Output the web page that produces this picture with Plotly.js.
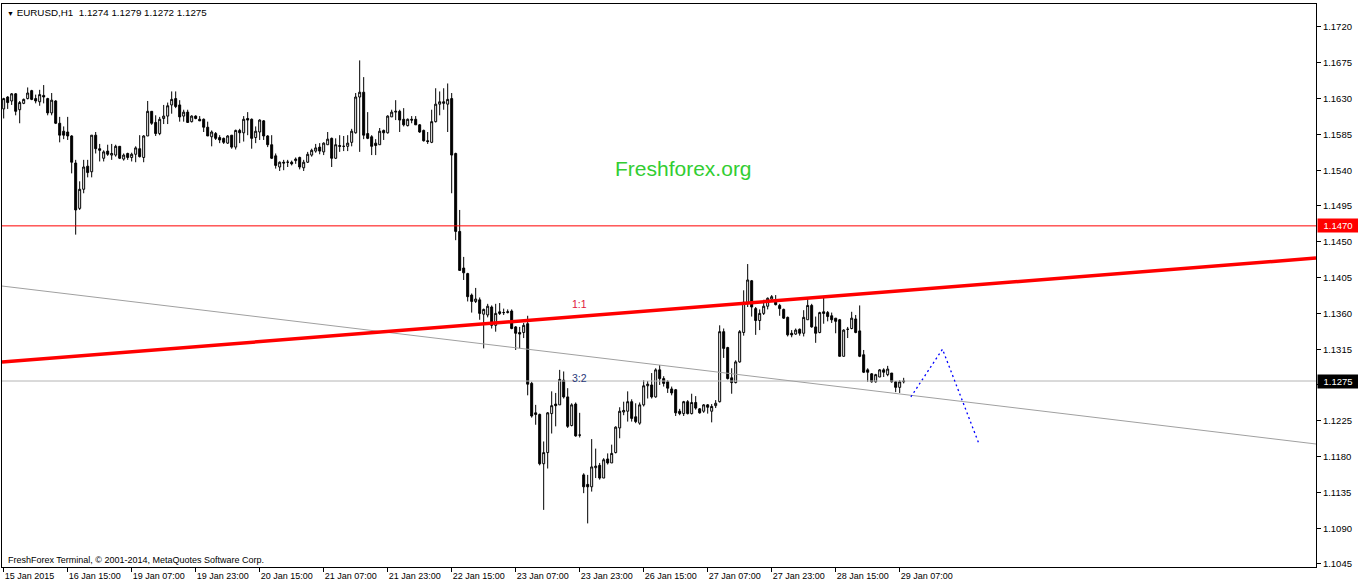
<!DOCTYPE html>
<html>
<head>
<meta charset="utf-8">
<script src="https://cdn.plot.ly/plotly-3.0.1.min.js"></script>
<style>
html,body{margin:0;padding:0;background:#fff;}
#chart{width:1358px;height:586px;}
</style>
</head>
<body>
<div id="chart"></div>
<script>
// ---- EURUSD H1 candles (bar 0 = 15 Jan 23:00) ----
const open = [
1.1617,1.1632,1.1627,1.1636,1.1616,1.1624,1.1630,1.1640,1.1630,1.1626,
1.1634,1.1630,1.1612,1.1627,1.1599,1.1589,1.1588,1.1583,1.1549,1.1492,
1.1516,1.1545,1.1538,1.1584,1.1567,1.1555,1.1564,1.1559,1.1559,1.1570,
1.1554,1.1561,1.1556,1.1560,1.1567,1.1556,1.1583,1.1614,1.1600,1.1586,
1.1605,1.1608,1.1622,1.1630,1.1622,1.1608,1.1613,1.1601,1.1608,1.1604,
1.1604,1.1594,1.1582,1.1586,1.1581,1.1580,1.1574,1.1584,1.1569,1.1590,
1.1587,1.1605,1.1604,1.1581,1.1588,1.1602,1.1583,1.1572,1.1558,1.1544,
1.1550,1.1550,1.1550,1.1552,1.1556,1.1543,1.1550,1.1559,1.1564,1.1569,
1.1563,1.1572,1.1580,1.1555,1.1571,1.1570,1.1570,1.1575,1.1587,1.1632,
1.1638,1.1586,1.1582,1.1574,1.1572,1.1590,1.1587,1.1607,1.1613,1.1614,
1.1604,1.1596,1.1604,1.1604,1.1597,1.1590,1.1577,1.1575,1.1601,1.1623,
1.1624,1.1623,1.1630,1.1561,1.1463,1.1417,1.1410,1.1383,1.1375,1.1377,
1.1359,1.1358,1.1368,1.1345,1.1362,1.1361,1.1361,1.1363,1.1343,1.1336,
1.1336,1.1347,1.1272,1.1235,1.1233,1.1171,1.1185,1.1234,1.1246,1.1245,
1.1276,1.1255,1.1219,1.1246,1.1207,1.1157,1.1145,1.1142,1.1166,1.1169,
1.1153,1.1177,1.1172,1.1185,1.1216,1.1236,1.1237,1.1249,1.1230,1.1222,
1.1245,1.1269,1.1270,1.1255,1.1289,1.1278,1.1274,1.1265,1.1264,1.1237,
1.1234,1.1249,1.1234,1.1248,1.1240,1.1237,1.1245,1.1237,1.1244,1.1249,
1.1337,1.1317,1.1279,1.1273,1.1299,1.1336,1.1373,1.1401,1.1366,1.1351,
1.1360,1.1369,1.1378,1.1376,1.1370,1.1365,1.1355,1.1335,1.1334,1.1340,
1.1335,1.1352,1.1370,1.1343,1.1336,1.1362,1.1361,1.1357,1.1354,1.1352,
1.1306,1.1340,1.1341,1.1353,1.1338,1.1308,1.1289,1.1284,1.1274,1.1280,
1.1289,1.1283,1.1285,1.1274,1.1267,1.1274];
const high = [
1.1631,1.1633,1.1637,1.1637,1.1627,1.1630,1.1644,1.1641,1.1635,1.1641,
1.1647,1.1631,1.1637,1.1628,1.1607,1.1595,1.1607,1.1584,1.1553,1.1526,
1.1553,1.1553,1.1584,1.1588,1.1573,1.1565,1.1572,1.1573,1.1572,1.1570,
1.1561,1.1562,1.1562,1.1570,1.1584,1.1584,1.1627,1.1614,1.1609,1.1607,
1.1622,1.1625,1.1639,1.1639,1.1628,1.1616,1.1616,1.1609,1.1609,1.1608,
1.1605,1.1601,1.1590,1.1588,1.1584,1.1581,1.1584,1.1584,1.1591,1.1592,
1.1608,1.1613,1.1605,1.1595,1.1604,1.1603,1.1584,1.1584,1.1561,1.1551,
1.1553,1.1553,1.1552,1.1556,1.1557,1.1553,1.1563,1.1567,1.1573,1.1574,
1.1575,1.1588,1.1581,1.1580,1.1584,1.1583,1.1584,1.1592,1.1637,1.1678,
1.1657,1.1613,1.1584,1.1579,1.1593,1.1591,1.1609,1.1616,1.1628,1.1616,
1.1618,1.1605,1.1608,1.1608,1.1598,1.1591,1.1588,1.1616,1.1643,1.1639,
1.1643,1.1649,1.1637,1.1562,1.1490,1.1431,1.1411,1.1385,1.1392,1.1380,
1.1366,1.1372,1.1370,1.1372,1.1373,1.1366,1.1365,1.1365,1.1344,1.1343,
1.1348,1.1357,1.1274,1.1245,1.1234,1.1199,1.1236,1.1262,1.1260,1.1289,
1.1287,1.1266,1.1247,1.1248,1.1235,1.1159,1.1157,1.1202,1.1190,1.1172,
1.1178,1.1184,1.1195,1.1218,1.1242,1.1249,1.1262,1.1252,1.1247,1.1248,
1.1276,1.1275,1.1285,1.1291,1.1295,1.1281,1.1276,1.1268,1.1265,1.1240,
1.1250,1.1251,1.1259,1.1256,1.1241,1.1246,1.1246,1.1246,1.1251,1.1345,
1.1341,1.1318,1.1291,1.1301,1.1339,1.1389,1.1422,1.1402,1.1368,1.1365,
1.1377,1.1380,1.1383,1.1383,1.1372,1.1366,1.1356,1.1339,1.1341,1.1341,
1.1364,1.1379,1.1372,1.1356,1.1362,1.1381,1.1363,1.1361,1.1354,1.1353,
1.1340,1.1343,1.1362,1.1358,1.1370,1.1314,1.1291,1.1285,1.1284,1.1290,
1.1291,1.1294,1.1285,1.1275,1.1276,1.1279];
const low = [
1.1605,1.1617,1.1622,1.1609,1.1599,1.1623,1.1629,1.1628,1.1624,1.1621,
1.1624,1.1609,1.1609,1.1598,1.1575,1.1579,1.1578,1.1536,1.1459,1.1490,
1.1511,1.1531,1.1531,1.1561,1.1551,1.1551,1.1558,1.1553,1.1557,1.1554,
1.1552,1.1553,1.1551,1.1550,1.1556,1.1550,1.1583,1.1597,1.1583,1.1584,
1.1598,1.1598,1.1611,1.1618,1.1601,1.1601,1.1600,1.1600,1.1604,1.1602,
1.1588,1.1583,1.1570,1.1578,1.1574,1.1573,1.1573,1.1567,1.1566,1.1574,
1.1576,1.1584,1.1567,1.1574,1.1578,1.1578,1.1569,1.1554,1.1542,1.1539,
1.1540,1.1544,1.1546,1.1548,1.1541,1.1539,1.1549,1.1557,1.1562,1.1560,
1.1559,1.1572,1.1544,1.1554,1.1563,1.1564,1.1564,1.1570,1.1586,1.1563,
1.1579,1.1579,1.1559,1.1559,1.1572,1.1578,1.1586,1.1607,1.1603,1.1588,
1.1595,1.1595,1.1599,1.1597,1.1587,1.1576,1.1573,1.1574,1.1600,1.1609,
1.1616,1.1588,1.1511,1.1452,1.1414,1.1402,1.1375,1.1361,1.1373,1.1352,
1.1316,1.1355,1.1341,1.1337,1.1358,1.1358,1.1360,1.1340,1.1314,1.1316,
1.1329,1.1257,1.1229,1.1220,1.1169,1.1113,1.1165,1.1209,1.1218,1.1245,
1.1253,1.1216,1.1218,1.1205,1.1204,1.1134,1.1096,1.1136,1.1153,1.1151,
1.1153,1.1170,1.1172,1.1184,1.1203,1.1232,1.1224,1.1224,1.1222,1.1220,
1.1243,1.1253,1.1253,1.1254,1.1270,1.1268,1.1260,1.1257,1.1231,1.1232,
1.1231,1.1233,1.1233,1.1239,1.1234,1.1235,1.1234,1.1223,1.1241,1.1248,
1.1304,1.1277,1.1259,1.1272,1.1298,1.1332,1.1368,1.1356,1.1333,1.1339,
1.1358,1.1365,1.1377,1.1370,1.1357,1.1353,1.1331,1.1330,1.1333,1.1332,
1.1331,1.1352,1.1342,1.1323,1.1335,1.1347,1.1350,1.1348,1.1335,1.1306,
1.1306,1.1329,1.1340,1.1335,1.1305,1.1285,1.1274,1.1273,1.1273,1.1280,
1.1280,1.1281,1.1273,1.1261,1.1260,1.1272];
const close = [
1.1630,1.1625,1.1636,1.1614,1.1625,1.1629,1.1637,1.1629,1.1627,1.1635,
1.1632,1.1612,1.1628,1.1599,1.1584,1.1584,1.1583,1.1550,1.1490,1.1516,
1.1544,1.1537,1.1584,1.1567,1.1565,1.1563,1.1560,1.1561,1.1570,1.1555,
1.1559,1.1556,1.1560,1.1568,1.1557,1.1583,1.1614,1.1599,1.1586,1.1604,
1.1608,1.1621,1.1629,1.1620,1.1607,1.1613,1.1600,1.1608,1.1605,1.1602,
1.1594,1.1583,1.1588,1.1580,1.1578,1.1575,1.1583,1.1569,1.1590,1.1587,
1.1604,1.1603,1.1580,1.1589,1.1603,1.1583,1.1572,1.1555,1.1546,1.1550,
1.1549,1.1550,1.1548,1.1554,1.1544,1.1550,1.1560,1.1565,1.1568,1.1564,
1.1574,1.1579,1.1555,1.1572,1.1570,1.1570,1.1574,1.1589,1.1632,1.1638,
1.1584,1.1580,1.1570,1.1571,1.1589,1.1587,1.1608,1.1613,1.1614,1.1603,
1.1597,1.1604,1.1603,1.1597,1.1588,1.1577,1.1576,1.1601,1.1623,1.1626,
1.1626,1.1629,1.1559,1.1463,1.1414,1.1411,1.1381,1.1375,1.1378,1.1360,
1.1365,1.1369,1.1345,1.1360,1.1360,1.1361,1.1362,1.1341,1.1335,1.1334,
1.1345,1.1271,1.1231,1.1233,1.1171,1.1185,1.1235,1.1244,1.1244,1.1277,
1.1255,1.1218,1.1245,1.1206,1.1207,1.1142,1.1142,1.1167,1.1168,1.1153,
1.1176,1.1172,1.1184,1.1217,1.1237,1.1238,1.1249,1.1228,1.1224,1.1245,
1.1269,1.1271,1.1255,1.1289,1.1278,1.1272,1.1266,1.1260,1.1235,1.1234,
1.1249,1.1234,1.1248,1.1241,1.1235,1.1245,1.1242,1.1243,1.1247,1.1337,
1.1316,1.1278,1.1273,1.1299,1.1337,1.1374,1.1402,1.1368,1.1351,1.1360,
1.1369,1.1379,1.1381,1.1371,1.1366,1.1354,1.1333,1.1333,1.1339,1.1335,
1.1355,1.1370,1.1343,1.1335,1.1361,1.1360,1.1356,1.1352,1.1350,1.1306,
1.1339,1.1340,1.1354,1.1336,1.1306,1.1286,1.1286,1.1274,1.1283,1.1289,
1.1286,1.1290,1.1274,1.1267,1.1274,1.1275];

// time-axis labels (every 16 bars)
const tickBars = [0,16,32,48,64,80,96,112,128,144,160,176,192,208,224];
const tickLabels = ["15 Jan 2015","16 Jan 15:00","19 Jan 07:00","19 Jan 23:00","20 Jan 15:00",
  "21 Jan 07:00","21 Jan 23:00","22 Jan 15:00","23 Jan 07:00","23 Jan 23:00",
  "26 Jan 15:00","27 Jan 07:00","27 Jan 23:00","28 Jan 15:00","29 Jan 07:00"];
// price-axis labels
const priceTicks = [1.1045,1.1090,1.1135,1.1180,1.1225,1.1270,1.1315,1.1360,
  1.1405,1.1450,1.1495,1.1540,1.1585,1.1630,1.1675,1.1720];

// drawn objects
const viewBars = [-0.42, 328.08];
const redTrendPrices = [1.12989, 1.14296];
const grayTrendPrices = [1.13944, 1.11958];
const levelRed = 1.1470;
const levelBid = 1.1275;
const forecastBars = [226.8, 234.7, 243.9];
const forecastPrices = [1.1255, 1.1315, 1.1195];

const bars = open.map((_, i) => i);

const traces = [
  {type:'candlestick', x:bars, open:open, high:high, low:low, close:close,
   increasing:{line:{color:'#000000', width:1}, fillcolor:'#ffffff'},
   decreasing:{line:{color:'#000000', width:1}, fillcolor:'#000000'},
   whiskerwidth:0, hoverinfo:'skip', showlegend:false},
  {type:'scatter', mode:'lines', x:viewBars, y:[levelBid, levelBid],
   line:{color:'#b4b4b4', width:1}, hoverinfo:'skip', showlegend:false},
  {type:'scatter', mode:'lines', x:viewBars, y:grayTrendPrices,
   line:{color:'#a0a0a0', width:1}, hoverinfo:'skip', showlegend:false},
  {type:'scatter', mode:'lines', x:viewBars, y:[levelRed, levelRed],
   line:{color:'#ff0000', width:1}, hoverinfo:'skip', showlegend:false},
  {type:'scatter', mode:'lines', x:viewBars, y:redTrendPrices,
   line:{color:'#ff0000', width:3.5}, hoverinfo:'skip', showlegend:false},
  {type:'scatter', mode:'lines', x:forecastBars, y:forecastPrices,
   line:{color:'#0000ff', width:1.3, dash:'2px,3px'}, hoverinfo:'skip', showlegend:false}
];

const F = 'Liberation Sans, Arial, sans-serif';
const layout = {
  width:1358, height:586,
  margin:{l:2, r:42, t:4, b:19, pad:0},
  paper_bgcolor:'#ffffff', plot_bgcolor:'#ffffff',
  showlegend:false,
  dragmode:false,
  xaxis:{
    range:viewBars, showgrid:false, zeroline:false,
    showline:true, mirror:true, linecolor:'#000000', linewidth:1,
    ticks:'outside', ticklen:4, tickcolor:'#000000', tickwidth:1,
    tickmode:'array', tickvals:tickBars, ticktext:tickLabels,
    ticklabelposition:'outside right',
    tickfont:{family:F, size:9, color:'#000000'},
    rangeslider:{visible:false}, fixedrange:true
  },
  yaxis:{
    range:[1.10412, 1.17489], side:'right', showgrid:false, zeroline:false,
    showline:true, mirror:true, linecolor:'#000000', linewidth:1,
    ticks:'outside', ticklen:4, tickcolor:'#000000', tickwidth:1,
    tickmode:'array', tickvals:priceTicks, tickformat:'.4f',
    tickfont:{family:F, size:9.5, color:'#000000'}, fixedrange:true
  },
  annotations:[
    {xref:'paper', yref:'paper', x:0, y:1, xanchor:'left', yanchor:'top', xshift:3, yshift:-1,
     text:'<span style="font-size:7px">▼</span> EURUSD,H1\u00a0\u00a01.1274 1.1279 1.1272 1.1275',
     showarrow:false, font:{family:F, size:9.8, color:'#000000'}},
    {xref:'paper', yref:'paper', x:0, y:0, xanchor:'left', yanchor:'bottom', xshift:4, yshift:0,
     text:'FreshForex Terminal, © 2001-2014, MetaQuotes Software Corp.',
     showarrow:false, font:{family:F, size:9, color:'#000000'}},
    {xref:'paper', yref:'paper', x:0.5183, y:0.707, xanchor:'center', yanchor:'middle',
     text:'Freshforex.org', showarrow:false, font:{family:F, size:21, color:'#32cd32'}},
    {xref:'x', yref:'y', x:143.9, y:1.1372, xanchor:'center', yanchor:'middle',
     text:'1:1', showarrow:false, font:{family:F, size:10.5, color:'#e0143c'}},
    {xref:'x', yref:'y', x:143.9, y:1.1279, xanchor:'center', yanchor:'middle',
     text:'3:2', showarrow:false, font:{family:F, size:10.5, color:'#2a3a7a'}},
    {xref:'paper', yref:'y', x:1, y:levelRed, xanchor:'left', yanchor:'middle', xshift:1,
     text:'1.1470', showarrow:false, bgcolor:'#ff0000', borderpad:1, width:38, align:'center',
     font:{family:F, size:9.5, color:'#ffffff'}},
    {xref:'paper', yref:'y', x:1, y:levelBid, xanchor:'left', yanchor:'middle', xshift:1,
     text:'1.1275', showarrow:false, bgcolor:'#000000', borderpad:1, width:38, align:'center',
     font:{family:F, size:9.5, color:'#ffffff'}}
  ]
};

Plotly.newPlot('chart', traces, layout, {displayModeBar:false, staticPlot:true});
</script>
</body>
</html>
